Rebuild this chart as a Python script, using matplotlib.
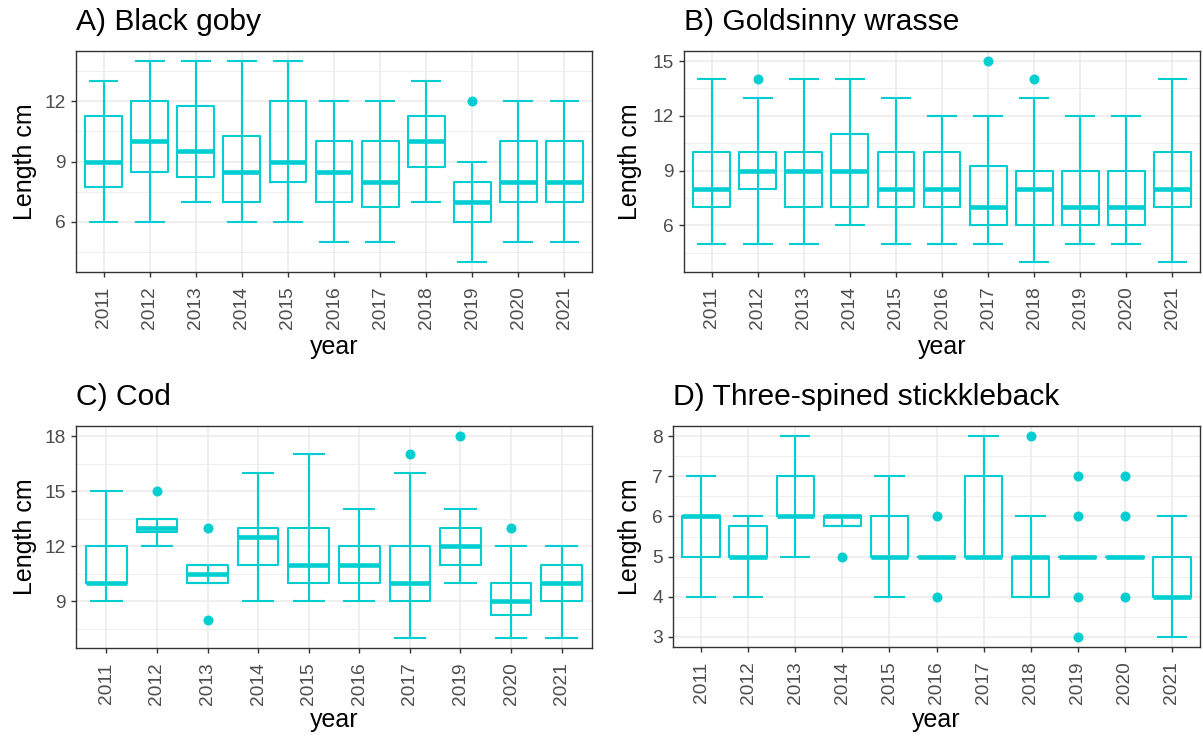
import numpy as np
import matplotlib.pyplot as plt

plt.rcParams['font.family'] = ['Liberation Sans', 'DejaVu Sans']

# Box statistics: whisker low, Q1, median, Q3, whisker high, outliers
goby_years = ['2011', '2012', '2013', '2014', '2015', '2016', '2017', '2018', '2019', '2020', '2021']
goby_low = [6, 6, 7, 6, 6, 5, 5, 7, 4, 5, 5]
goby_q1 = [7.75, 8.5, 8.25, 7, 8, 7, 6.75, 8.75, 6, 7, 7]
goby_med = [9, 10, 9.5, 8.5, 9, 8.5, 8, 10, 7, 8, 8]
goby_q3 = [11.25, 12, 11.75, 10.25, 12, 10, 10, 11.25, 8, 10, 10]
goby_high = [13, 14, 14, 14, 14, 12, 12, 13, 9, 12, 12]
goby_out = [[], [], [], [], [], [], [], [], [12], [], []]

wrasse_years = ['2011', '2012', '2013', '2014', '2015', '2016', '2017', '2018', '2019', '2020', '2021']
wrasse_low = [5, 5, 5, 6, 5, 5, 5, 4, 5, 5, 4]
wrasse_q1 = [7, 8, 7, 7, 7, 7, 6, 6, 6, 6, 7]
wrasse_med = [8, 9, 9, 9, 8, 8, 7, 8, 7, 7, 8]
wrasse_q3 = [10, 10, 10, 11, 10, 10, 9.25, 9, 9, 9, 10]
wrasse_high = [14, 13, 14, 14, 13, 12, 12, 13, 12, 12, 14]
wrasse_out = [[], [14], [], [], [], [], [15], [14], [], [], []]

cod_years = ['2011', '2012', '2013', '2014', '2015', '2016', '2017', '2019', '2020', '2021']
cod_low = [9, 12, 10, 9, 9, 9, 7, 10, 7, 7]
cod_q1 = [10, 12.75, 10, 11, 10, 10, 9, 11, 8.25, 9]
cod_med = [10, 13, 10.5, 12.5, 11, 11, 10, 12, 9, 10]
cod_q3 = [12, 13.5, 11, 13, 13, 12, 12, 13, 10, 11]
cod_high = [15, 13.5, 11, 16, 17, 14, 16, 14, 12, 12]
cod_out = [[], [15], [13, 8], [], [], [], [17], [18], [13], []]

stick_years = ['2011', '2012', '2013', '2014', '2015', '2016', '2017', '2018', '2019', '2020', '2021']
stick_low = [4, 4, 5, 5.75, 4, 5, 5, 4, 5, 5, 3]
stick_q1 = [5, 5, 6, 5.75, 5, 5, 5, 4, 5, 5, 4]
stick_med = [6, 5, 6, 6, 5, 5, 5, 5, 5, 5, 4]
stick_q3 = [6, 5.75, 7, 6, 6, 5, 7, 5, 5, 5, 5]
stick_high = [7, 6, 8, 6, 7, 5, 8, 6, 5, 5, 6]
stick_out = [[], [], [], [5], [], [6, 4], [], [8], [7, 6, 4, 3], [7, 6, 4], []]

CYAN = '#00CED1'
LW = 1.5
W, H = 1203, 738

fig = plt.figure(figsize=(W / 100, H / 100), dpi=100)


def draw_panel(box, title, years, low, q1, med, q3, high, out, yticks, ylab_px, xlab_gap):
    left, top, right, bottom = box
    ax = fig.add_axes([left / W, 1 - bottom / H, (right - left) / W, (bottom - top) / H])
    pos = np.arange(1, len(years) + 1)
    stats = [dict(whislo=low[i], q1=q1[i], med=med[i], q3=q3[i], whishi=high[i], fliers=out[i])
             for i in range(len(years))]

    # whisker line runs straight through the box, like geom_errorbar under an empty box
    ax.vlines(pos, low, high, color=CYAN, lw=LW, zorder=2)
    ax.bxp(stats, positions=pos, widths=0.8, capwidths=0.6, manage_ticks=False,
           boxprops=dict(color=CYAN, lw=LW),
           whiskerprops=dict(color=CYAN, lw=LW),
           capprops=dict(color=CYAN, lw=LW),
           medianprops=dict(color=CYAN, lw=2.2 * LW, solid_capstyle='butt'),
           flierprops=dict(marker='o', markerfacecolor=CYAN, markeredgecolor='none', markersize=7.2))

    lo = min(low + [v for o in out for v in o])
    hi = max(high + [v for o in out for v in o])
    pad = (hi - lo) * 0.05

    step = yticks[1] - yticks[0]
    ax.set_yticks(yticks)
    ax.set_yticks(np.arange(yticks[0] - step / 2.0, yticks[-1] + step, step), minor=True)
    ax.set_ylim(lo - pad, hi + pad)
    ax.set_xlim(0.4, len(years) + 0.6)
    ax.set_xticks(pos)
    ax.set_xticklabels(years, rotation=90)

    ax.set_axisbelow(True)
    ax.grid(which='major', color='#EBEBEB', lw=1.1)
    ax.grid(which='minor', axis='y', color='#EBEBEB', lw=0.6)
    for s in ax.spines.values():
        s.set_color('#333333')
        s.set_linewidth(1.0)
    ax.tick_params(which='major', length=3.6, width=1.0, color='#333333',
                   labelcolor='#4D4D4D', labelsize=13.8)
    ax.tick_params(axis='y', pad=3.6)
    ax.tick_params(axis='x', pad=7)
    ax.tick_params(which='minor', length=0)

    ax.set_title(title, loc='left', fontsize=21.6, pad=15)
    ax.set_ylabel('Length cm', fontsize=18)
    ax.yaxis.label.set_va('center')
    ax.yaxis.set_label_coords((ylab_px - left) / (right - left), 0.5)
    ax.set_xlabel('year', fontsize=18)
    ax.xaxis.label.set_va('baseline')
    ax.xaxis.set_label_coords(0.5, -xlab_gap / (bottom - top))
    return ax


draw_panel((76, 51, 592, 272), 'A) Black goby', goby_years, goby_low, goby_q1, goby_med,
           goby_q3, goby_high, goby_out, [6, 9, 12], 25, 82)
draw_panel((684, 51, 1200, 272), 'B) Goldsinny wrasse', wrasse_years, wrasse_low, wrasse_q1,
           wrasse_med, wrasse_q3, wrasse_high, wrasse_out, [6, 9, 12, 15], 630, 82)
draw_panel((76, 426, 592, 648), 'C) Cod', cod_years, cod_low, cod_q1, cod_med,
           cod_q3, cod_high, cod_out, [9, 12, 15, 18], 25, 79)
draw_panel((673, 426, 1200, 647), 'D) Three-spined stickkleback', stick_years, stick_low,
           stick_q1, stick_med, stick_q3, stick_high, stick_out, [3, 4, 5, 6, 7, 8], 630, 80)

fig.savefig('out.png', dpi=100)
